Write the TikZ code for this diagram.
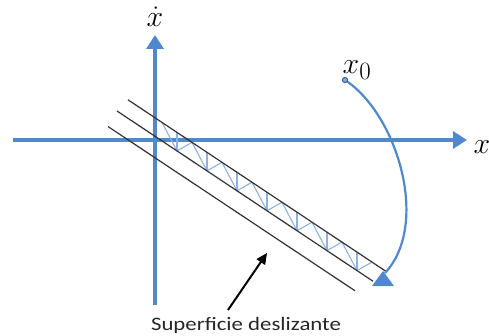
\documentclass[tikz,border=0pt]{standalone}
\usepackage{fontspec}
\newfontfamily\labelfont{Carlito}
\usetikzlibrary{arrows.meta,calc}
\definecolor{axisblue}{RGB}{79,136,205}
\definecolor{zigblue}{RGB}{140,178,228}
\begin{document}
\begin{tikzpicture}[x=1pt,y=-1pt,
  axis/.style={draw=axisblue, line width=4.5pt, -{Triangle[width=17pt,length=14pt]}},
  surf/.style={draw=black!80, line width=1.2pt},
  zig/.style={draw=zigblue, line width=1.1pt},
  traj/.style={draw=axisblue, line width=2.2pt},
  lbl/.style={font=\Huge, scale=1.2, inner sep=0pt}]
\path[use as bounding box] (0,0) rectangle (489,336);
% axes
\coordinate (hs) at (13,140); \coordinate (he) at (467,140);
\coordinate (vs) at (155,305); \coordinate (ve) at (155,35);
\draw[axis] (hs) -- (he);
\draw[axis] (vs) -- (ve);
\node[lbl, anchor=base] (xdot) at (155,27) {$\dot{x}$};
\node[lbl, anchor=base] (xl) at (482,154) {$x$};
% sliding surface lines
\coordinate (t1) at (128,{92.5+0.665*(128-117)});
\coordinate (t2) at (387,{92.5+0.665*(387-117)});
\coordinate (m1) at (117,111);
\coordinate (m2) at (373,{111+0.665*(373-117)});
\coordinate (b1) at (108,{132.5+0.665*(108-117)});
\coordinate (b2) at (355,{132.5+0.665*(355-117)});
% zigzag
\foreach \k in {0,...,6} {
  \pgfmathsetmacro\xa{162+30*\k}
  \pgfmathsetmacro\xm{177+30*\k}
  \pgfmathsetmacro\xb{192+30*\k}
  \draw[zig] (\xa,{92.5+0.665*(\xa-117)}) -- (\xm,{111+0.665*(\xm-117)}) -- (\xb,{92.5+0.665*(\xb-117)});
  \draw[zig] (\xm,{111+0.665*(\xm-117)}) -- (\xm,{92.5+0.665*(\xm-117)});
}
\draw[surf] (t1) -- (t2);
\draw[surf] (m1) -- (m2);
\draw[surf] (b1) -- (b2);
% trajectory
\coordinate (x0) at (345,80);
\coordinate (tipc) at (385,273);
\draw[traj] (x0) .. controls (398,115) and (430,225) .. (tipc);
\fill[axisblue] (372,286) -- (394,286) -- (383,271) -- cycle;
\filldraw[fill=axisblue!70, draw=axisblue!70!black, line width=1pt] (x0) circle (2.6pt);
\node[lbl, anchor=base] (x0l) at (357,74) {$x_{\scriptstyle 0}$};
% label arrow
\coordinate (as) at (228,310);
\coordinate (ae) at (267,253);
\draw[line width=2pt, -{Triangle[width=10pt,length=11pt]}] (as) -- (ae);
\node[font=\labelfont\fontsize{19}{22}\selectfont, text=black!85, xscale=1.2] (sd) at (246,325) {Superficie deslizante};
\end{tikzpicture}
\end{document}
